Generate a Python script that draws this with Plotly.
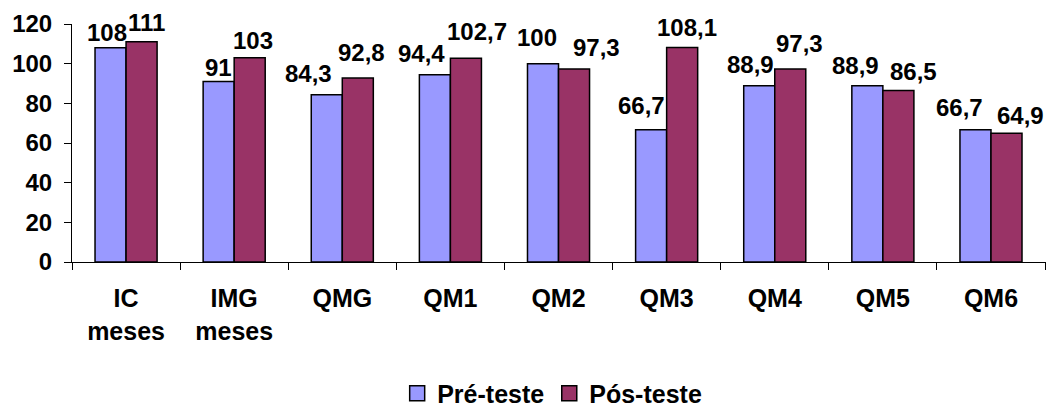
import plotly.graph_objects as go

# Categories and series values
categories = ["IC<br>meses", "IMG<br>meses", "QMG", "QM1", "QM2", "QM3", "QM4", "QM5", "QM6"]
pre_teste = [108, 91, 84.3, 94.4, 100, 66.7, 88.9, 88.9, 66.7]
pos_teste = [111, 103, 92.8, 102.7, 97.3, 108.1, 97.3, 86.5, 64.9]
y_ticks = [0, 20, 40, 60, 80, 100, 120]

# Hand-placed label nudges (pixels): horizontal shift and gap above the bar top
pre_dx = [-4, 0, -18, -13, -6, -10, -9, -12, -16]
pre_gap = [6, 5, 12, 12, 17, 15, 12, 11, 13]
pos_dx = [5, 3, 4, 11, 22, 5, 9, 15, 14]
pos_gap = [10, 8, 16, 17, 12, 11, 16, 9, 8]

FONT = "Liberation Sans, Arial, sans-serif"
PRE_COLOR = "#9999FF"
POS_COLOR = "#993366"
BARGAP = 0.426
OUTLINE = dict(color="black", width=1.5)


def fmt(v):
    s = f"{v:g}"
    return s.replace(".", ",")


fig = go.Figure()
fig.add_trace(go.Bar(
    x=categories, y=pre_teste, name="Pré-teste", showlegend=False,
    marker=dict(color=PRE_COLOR, line=OUTLINE),
))
fig.add_trace(go.Bar(
    x=categories, y=pos_teste, name="Pós-teste", showlegend=False,
    marker=dict(color=POS_COLOR, line=OUTLINE),
))

# Legend entries with larger square swatches
for name, color in (("Pré-teste", PRE_COLOR), ("Pós-teste", POS_COLOR)):
    fig.add_trace(go.Scatter(
        x=[None], y=[None], mode="markers", name=f"<b>{name}</b>",
        marker=dict(symbol="square", size=15, color=color, line=OUTLINE),
        hoverinfo="skip",
    ))

# Value labels above each bar
half = (1 - BARGAP) / 4
annotations = []
for i in range(len(categories)):
    for val, dx, gap, off in ((pre_teste[i], pre_dx[i], pre_gap[i], -half),
                              (pos_teste[i], pos_dx[i], pos_gap[i], half)):
        annotations.append(dict(
            x=i + off, y=val, xref="x", yref="y",
            text=f"<b>{fmt(val)}</b>", showarrow=False,
            xanchor="center", yanchor="bottom",
            xshift=dx, yshift=gap - 6,
            font=dict(family=FONT, size=24, color="black"),
        ))

fig.update_layout(
    width=1051, height=408,
    margin=dict(l=72, r=5, t=24, b=146, autoexpand=False),
    paper_bgcolor="white", plot_bgcolor="white",
    barmode="group", bargap=BARGAP, bargroupgap=0,
    showlegend=True,
    legend=dict(
        orientation="h", x=0.493, xanchor="center", y=-0.553, yanchor="middle",
        font=dict(family=FONT, size=25, color="black"),
        itemclick=False, traceorder="normal", itemwidth=30,
    ),
    annotations=annotations,
    font=dict(family=FONT, color="black"),
)

fig.update_xaxes(
    type="category", showline=True, linecolor="black", linewidth=1,
    ticks="outside", tickson="boundaries", ticklen=7, tickcolor="black",
    tickfont=dict(family=FONT, size=25, color="black"),
    tickprefix="<b>", ticksuffix="</b>",
    ticklabelstandoff=14, automargin=False,
    showgrid=False, zeroline=False,
)
fig.update_yaxes(
    range=[0, 120], tickvals=y_ticks, ticktext=[f"<b>{t}</b>" for t in y_ticks],
    showline=True, linecolor="black", linewidth=1,
    ticks="outside", ticklen=7, tickcolor="black",
    tickfont=dict(family=FONT, size=24, color="black"),
    ticklabelstandoff=7, automargin=False,
    showgrid=False, zeroline=False,
)

fig.write_html("out.html")
